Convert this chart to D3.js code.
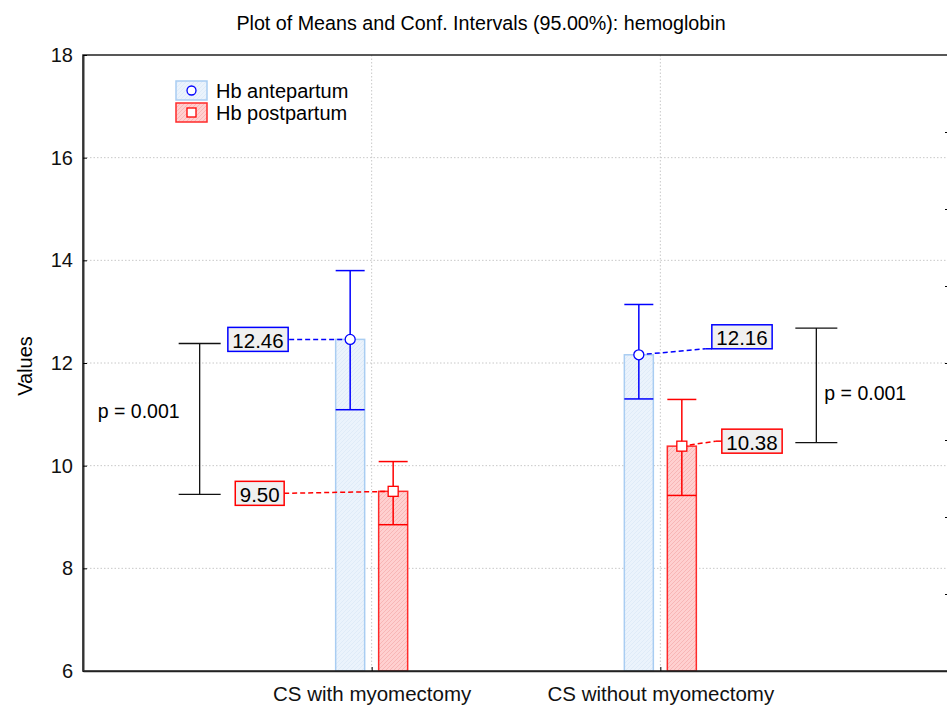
<!DOCTYPE html>
<html>
<head>
<meta charset="utf-8">
<script src="https://cdn.jsdelivr.net/npm/d3@7"></script>
<style>
  body { margin: 0; background: #fff; }
  svg { font-family: "Liberation Sans", Arial, sans-serif; }
</style>
</head>
<body>
<div id="chart"></div>
<script>
// data
const categories = ["CS with myomectomy", "CS without myomectomy"];
const seriesNames = ["Hb antepartum", "Hb postpartum"];
const means = [[12.46, 12.16], [9.50, 10.38]];       // [series][category]
const ciLow = [[11.09, 11.30], [8.85, 9.42]];
const ciHigh = [[13.80, 13.14], [10.08, 11.29]];
const yTicks = [6, 8, 10, 12, 14, 16, 18];
const rightTicks = [1, 2, 3, 4, 5, 6, 7];
const pLabels = ["p = 0.001", "p = 0.001"];
const pFrom = [12.38, 12.68];
const pTo = [9.44, 10.45];

const width = 947, height = 707;
const pLeft = 83, pRight = 949, pTop = 55, pBottom = 671;

const svg = d3.select("#chart").append("svg")
    .attr("width", width)
    .attr("height", height);

const defs = svg.append("defs");
function hatch(id, base, line) {
  const p = defs.append("pattern")
      .attr("id", id)
      .attr("patternUnits", "userSpaceOnUse")
      .attr("width", 4).attr("height", 4);
  p.append("rect").attr("width", 4).attr("height", 4).attr("fill", base);
  p.append("path").attr("d", "M-1,1 l2,-2 M0,4 l4,-4 M3,5 l2,-2")
      .attr("stroke", line).attr("stroke-width", 0.7);
}
hatch("hBlue", "#ebf3fc", "#dae8f6");
hatch("hRed", "#ffd0d0", "#f5abab");

const colors = {
  line: ["#0000ff", "#ff0000"],
  barStroke: ["#a9cdf2", "#ff2a2a"],
  fill: ["url(#hBlue)", "url(#hRed)"]
};

const y = d3.scaleLinear().domain([6, 18]).range([pBottom, pTop]);
const x = d3.scalePoint().domain(categories).range([pLeft, pRight]).padding(1);
const yRight = d3.scaleLinear().domain([0, 8]).range([pBottom, pTop]);

// bar offsets from the category centre
const barW = 29;
const barOff = [-36, 7];

// title
svg.append("text")
    .attr("x", 481).attr("y", 30)
    .attr("text-anchor", "middle")
    .style("font-size", "19.7px")
    .text("Plot of Means and Conf. Intervals (95.00%): hemoglobin");

// grid
const grid = svg.append("g")
    .attr("stroke", "#c8c8c8")
    .attr("stroke-dasharray", "1.5,2");
grid.selectAll(".hg").data(yTicks.slice(1, -1)).enter().append("line")
    .attr("x1", pLeft).attr("x2", pRight)
    .attr("y1", d => y(d)).attr("y2", d => y(d));
grid.selectAll(".vg").data(categories).enter().append("line")
    .attr("x1", d => x(d)).attr("x2", d => x(d))
    .attr("y1", pTop).attr("y2", pBottom);

// bars
seriesNames.forEach((s, si) => {
  svg.append("g").selectAll("rect")
      .data(categories)
      .enter().append("rect")
      .attr("x", (c) => x(c) + barOff[si])
      .attr("y", (c, ci) => y(means[si][ci]))
      .attr("width", barW)
      .attr("height", (c, ci) => y(6) - y(means[si][ci]))
      .attr("fill", colors.fill[si])
      .attr("stroke", colors.barStroke[si])
      .attr("stroke-width", 1.5);
});

// error bars
seriesNames.forEach((s, si) => {
  const g = svg.append("g").attr("stroke", colors.line[si]).attr("stroke-width", 1.5);
  categories.forEach((c, ci) => {
    const cx = x(c) + barOff[si] + barW / 2;
    g.append("line").attr("x1", cx).attr("x2", cx)
        .attr("y1", y(ciLow[si][ci])).attr("y2", y(ciHigh[si][ci]));
    [ciLow[si][ci], ciHigh[si][ci]].forEach(v => {
      g.append("line")
          .attr("x1", cx - barW / 2).attr("x2", cx + barW / 2)
          .attr("y1", y(v)).attr("y2", y(v));
    });
  });
});

// value label boxes: offset of box from the marker, and where the leader meets it
const labelLayout = [
  [{dx: -62, dy: 0, side: "left", ly: 0}, {dx: 73, dy: -18, side: "right", ly: 12}],
  [{dx: -109, dy: 2, side: "left", ly: 0}, {dx: 40, dy: -5, side: "right", ly: 0}]
];
seriesNames.forEach((s, si) => {
  categories.forEach((c, ci) => {
    const cx = x(c) + barOff[si] + barW / 2;
    const cy = y(means[si][ci]);
    const L = labelLayout[si][ci];
    const label = means[si][ci].toFixed(2);
    const t = svg.append("text")
        .style("font-size", "20.5px")
        .attr("dominant-baseline", "central")
        .text(label);
    const tw = t.node().getComputedTextLength();
    const bw = tw + 9, bh = 24;
    const bx = L.side === "left" ? cx + L.dx - bw : cx + L.dx;
    const by = cy + L.dy - bh / 2;
    const ex = L.side === "left" ? bx + bw : bx - 6;
    const ey = cy + L.dy + L.ly;
    svg.append("line")
        .attr("x1", cx).attr("y1", cy)
        .attr("x2", ex).attr("y2", ey)
        .attr("stroke", colors.line[si])
        .attr("stroke-width", 1.5)
        .attr("stroke-dasharray", "5,3");
    if (L.side === "right") {
      svg.append("line")
          .attr("x1", ex).attr("y1", ey).attr("x2", bx).attr("y2", ey)
          .attr("stroke", colors.line[si]).attr("stroke-width", 1.5);
    }
    svg.append("rect")
        .attr("x", bx).attr("y", by)
        .attr("width", bw).attr("height", bh)
        .attr("fill", "#f0f0f0")
        .attr("stroke", colors.line[si])
        .attr("stroke-width", 1.5);
    t.raise().attr("x", bx + 4.5).attr("y", cy + L.dy + 1);
  });
});

// markers
categories.forEach((c, ci) => {
  const cx0 = x(c) + barOff[0] + barW / 2;
  svg.append("circle")
      .attr("cx", cx0).attr("cy", y(means[0][ci])).attr("r", 5)
      .attr("fill", "#fff").attr("stroke", colors.line[0]).attr("stroke-width", 1.3);
  const cx1 = x(c) + barOff[1] + barW / 2;
  svg.append("rect")
      .attr("x", cx1 - 5).attr("y", y(means[1][ci]) - 5)
      .attr("width", 10).attr("height", 10)
      .attr("fill", "#fff").attr("stroke", colors.line[1]).attr("stroke-width", 1.3);
});

// p-value brackets
const pLayout = [
  {dx: -172, tx: -20, ty: -8, anchor: "end"},
  {dx: 156, tx: 8, ty: 8, anchor: "start"}
];
categories.forEach((c, i) => {
  const bx = x(c) + pLayout[i].dx;
  const g = svg.append("g").attr("stroke", "#111").attr("stroke-width", 1.3);
  g.append("line").attr("x1", bx).attr("x2", bx).attr("y1", y(pFrom[i])).attr("y2", y(pTo[i]));
  [pFrom[i], pTo[i]].forEach(v => {
    g.append("line").attr("x1", bx - 21).attr("x2", bx + 21).attr("y1", y(v)).attr("y2", y(v));
  });
  svg.append("text")
      .attr("x", bx + pLayout[i].tx)
      .attr("y", (y(pFrom[i]) + y(pTo[i])) / 2 + pLayout[i].ty)
      .attr("dominant-baseline", "central")
      .attr("text-anchor", pLayout[i].anchor)
      .style("font-size", "19.5px")
      .text(pLabels[i]);
});

// frame
svg.append("rect")
    .attr("x", pLeft).attr("y", pTop)
    .attr("width", pRight - pLeft).attr("height", pBottom - pTop)
    .attr("fill", "none").attr("stroke", "#222").attr("stroke-width", 1.5);

// axes
const yAxis = svg.append("g")
    .attr("transform", `translate(${pLeft},0)`)
    .call(d3.axisLeft(y).tickValues(yTicks).tickSizeInner(-4).tickSizeOuter(0).tickPadding(10));
yAxis.select(".domain").attr("stroke", "#333").attr("stroke-width", 2);
yAxis.selectAll("text").style("font-size", "20px").attr("fill", "#111");

const xAxis = svg.append("g")
    .attr("transform", `translate(0,${pBottom})`)
    .call(d3.axisBottom(x).tickSizeInner(-4).tickSizeOuter(0).tickPadding(15));
xAxis.select(".domain").attr("stroke", "#222").attr("stroke-width", 1.5);
xAxis.selectAll("text").style("font-size", "20.5px").attr("fill", "#111");

const rAxis = svg.append("g")
    .attr("transform", `translate(${pRight},0)`)
    .call(d3.axisRight(yRight).tickValues(rightTicks).tickSizeInner(-4).tickSizeOuter(0));
rAxis.selectAll("text").remove();

// y label
svg.append("text")
    .attr("transform", "translate(32,366) rotate(-90)")
    .attr("text-anchor", "middle")
    .style("font-size", "20px")
    .text("Values");

// legend
const legend = svg.append("g");
seriesNames.forEach((s, i) => {
  const ly = 81 + i * 22;
  legend.append("rect")
      .attr("x", 176).attr("y", ly).attr("width", 31).attr("height", 19)
      .attr("fill", colors.fill[i]).attr("stroke", colors.barStroke[i]).attr("stroke-width", 1.5);
  if (i === 0) {
    legend.append("circle").attr("cx", 191.5).attr("cy", ly + 9.5).attr("r", 4.5)
        .attr("fill", "#fff").attr("stroke", colors.line[0]).attr("stroke-width", 1.3);
  } else {
    legend.append("rect").attr("x", 187).attr("y", ly + 5).attr("width", 9).attr("height", 9)
        .attr("fill", "#fff").attr("stroke", colors.line[1]).attr("stroke-width", 1.3);
  }
  legend.append("text")
      .attr("x", 216).attr("y", ly + 10)
      .attr("dominant-baseline", "central")
      .style("font-size", "20px")
      .text(s);
});
</script>
</body>
</html>
